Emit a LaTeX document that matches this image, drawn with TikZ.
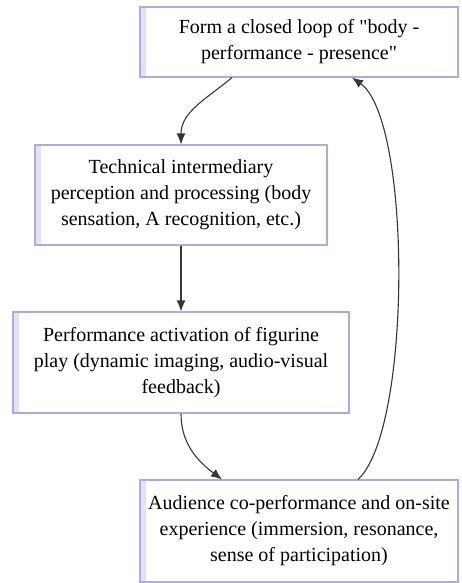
\documentclass[tikz,border=0pt]{standalone}
\usepackage{fontspec}
\setmainfont{Liberation Serif}
\usepackage{tikz}
\usetikzlibrary{calc,arrows.meta}
\definecolor{boxline}{RGB}{178,168,228}
\definecolor{boxstrip}{RGB}{228,225,247}
\definecolor{arrowgray}{RGB}{55,55,55}

\begin{document}
\begin{tikzpicture}[x=1pt,y=1pt,
  stage/.style={draw=boxline,line width=1.1pt,fill=white,align=center,
    inner sep=0pt,font=\fontsize{20}{26}\selectfont,
    path picture={\fill[boxstrip] (path picture bounding box.north west)
      rectangle ([xshift=6pt]path picture bounding box.south west);}},
  flow/.style={-{Latex[length=11pt,width=9pt]},draw=arrowgray,line width=1.1pt}]
\useasboundingbox[fill=white] (0,0) rectangle (462,-583);
\node[stage,minimum width=318,minimum height=70] (loop) at (299,-42)
  {Form a closed loop of \textquotedbl body -\\performance - presence\textquotedbl};
\node[stage,minimum width=292,minimum height=100] (tech) at (181,-195)
  {Technical intermediary\\perception and processing (body\\sensation, A recognition, etc.)};
\node[stage,minimum width=336,minimum height=101] (play) at (181,-362.5)
  {Performance activation of figurine\\play (dynamic imaging, audio-visual\\feedback)};
\node[stage,minimum width=318,minimum height=102] (aud) at (299,-531)
  {Audience co-performance and on-site\\experience (immersion, resonance,\\sense of participation)};
\draw[flow] ([xshift=-67pt]loop.south) to[out=-140,in=90] (tech.north);
\draw[flow] (tech.south) -- (play.north);
\draw[flow] (play.south) to[out=-90,in=143] ([xshift=-77pt]aud.north);
\draw[flow] ([xshift=59pt]aud.north) .. controls (412,-430) and (412,-120) .. ([xshift=53pt]loop.south);
\end{tikzpicture}
\end{document}
